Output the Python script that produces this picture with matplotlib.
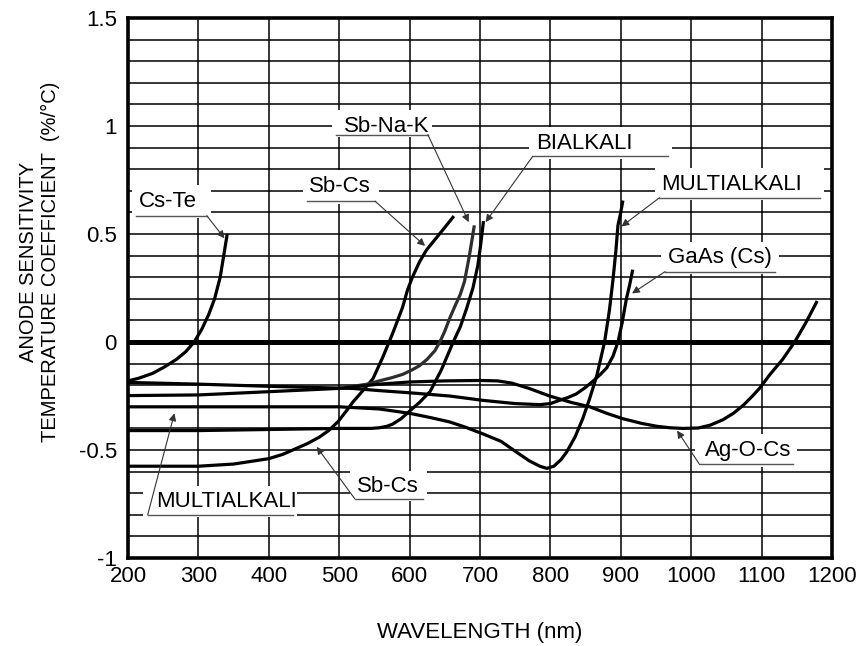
import numpy as np
import matplotlib.pyplot as plt
from matplotlib.ticker import MultipleLocator, FixedLocator

plt.rcParams['font.family'] = ['Liberation Sans', 'DejaVu Sans']

# curve data (wavelength nm, coefficient %/C)
cste_x = [200, 215, 235, 252, 269, 282, 294, 305, 315, 323, 331, 337, 341]
cste_y = [-0.18, -0.168, -0.145, -0.115, -0.08, -0.045, 0.0, 0.06, 0.13, 0.2, 0.3, 0.42, 0.5]

sbcs_x = [200, 300, 350, 400, 420, 434, 455, 472, 485, 498, 510, 519, 535, 548, 562, 576, 590, 597, 604, 614, 624, 640, 663]
sbcs_y = [-0.575, -0.575, -0.565, -0.54, -0.52, -0.50, -0.47, -0.44, -0.41, -0.37, -0.32, -0.28, -0.22, -0.17, -0.07, 0.04, 0.16, 0.24, 0.3, 0.37, 0.426, 0.49, 0.583]

sbnak_x = [520, 540, 557, 575, 590, 603, 614, 625, 636, 643, 650, 657, 665, 672, 678, 685, 692]
sbnak_y = [-0.205, -0.195, -0.18, -0.165, -0.15, -0.13, -0.11, -0.08, -0.04, 0.0, 0.05, 0.11, 0.17, 0.22, 0.28, 0.4, 0.54]

bialk_x = [200, 300, 400, 500, 545, 557, 568, 576, 588, 600, 614, 629, 645, 662, 672, 681, 690, 697, 701, 705]
bialk_y = [-0.41, -0.41, -0.405, -0.40, -0.40, -0.397, -0.39, -0.38, -0.355, -0.32, -0.28, -0.23, -0.13, 0.0, 0.07, 0.155, 0.25, 0.355, 0.45, 0.56]

multi_x = [200, 300, 400, 500, 557, 600, 630, 657, 680, 704, 730, 752, 770, 785, 795, 805, 815, 823, 835, 846, 856, 866, 877, 884, 889, 893, 896, 900, 903]
multi_y = [-0.30, -0.30, -0.30, -0.30, -0.31, -0.33, -0.35, -0.37, -0.395, -0.425, -0.46, -0.51, -0.55, -0.575, -0.585, -0.575, -0.545, -0.51, -0.44, -0.355, -0.26, -0.155, 0.0, 0.15, 0.29, 0.42, 0.54, 0.6, 0.655]

gaas_x = [200, 300, 400, 520, 557, 600, 657, 704, 750, 785, 800, 813, 825, 837, 850, 861, 871, 880, 889, 896, 902, 908, 913, 917]
gaas_y = [-0.187, -0.195, -0.205, -0.215, -0.225, -0.235, -0.25, -0.27, -0.285, -0.29, -0.285, -0.27, -0.257, -0.24, -0.21, -0.18, -0.15, -0.12, -0.065, 0.0, 0.09, 0.2, 0.27, 0.335]

agocs_x = [200, 300, 400, 498, 557, 600, 650, 700, 725, 745, 770, 799, 830, 856, 880, 903, 930, 951, 970, 988, 1010, 1027, 1045, 1060, 1075, 1087, 1097, 1112, 1130, 1147, 1163, 1179]
agocs_y = [-0.248, -0.245, -0.23, -0.215, -0.195, -0.185, -0.18, -0.178, -0.18, -0.19, -0.215, -0.25, -0.28, -0.30, -0.33, -0.355, -0.377, -0.39, -0.397, -0.40, -0.398, -0.385, -0.36, -0.33, -0.29, -0.25, -0.215, -0.15, -0.08, 0.0, 0.09, 0.19]

curves = [
    (cste_x, cste_y, 'black'),
    (sbcs_x, sbcs_y, 'black'),
    (sbnak_x, sbnak_y, '#2e2e2e'),
    (bialk_x, bialk_y, 'black'),
    (multi_x, multi_y, 'black'),
    (gaas_x, gaas_y, 'black'),
    (agocs_x, agocs_y, 'black'),
]

# label text, text centre, underline (x0, x1, y), leader start, arrow tip
labels = [
    ('Cs-Te', (256, 0.65), (212, 312, 0.585), (312, 0.585), (337, 0.48)),
    ('Sb-Cs', (501, 0.72), (455, 551, 0.652), (551, 0.652), (622, 0.445)),
    ('Sb-Na-K', (567, 1.0), (496, 626, 0.96), (626, 0.96), (684, 0.555)),
    ('BIALKALI', (849, 0.92), (775, 967, 0.86), (775, 0.86), (708, 0.555)),
    ('MULTIALKALI', (1058, 0.73), (955, 1183, 0.668), (955, 0.668), (901, 0.535)),
    ('GaAs (Cs)', (1041, 0.39), (963, 1119, 0.326), (963, 0.326), (916, 0.225)),
    ('Ag-O-Cs', (1081, -0.50), (1012, 1145, -0.567), (1012, -0.567), (980, -0.41)),
    ('Sb-Cs', (569, -0.67), (522, 619, -0.725), (522, -0.725), (468, -0.485)),
    ('MULTIALKALI', (340, -0.74), (228, 434, -0.80), (228, -0.80), (266, -0.33)),
]

fig = plt.figure(figsize=(8.6, 6.46), dpi=100)
ax = fig.add_axes([0.1488, 0.1362, 0.8186, 0.8359])

ax.set_xlim(200, 1200)
ax.set_ylim(-1, 1.5)
ax.xaxis.set_major_locator(MultipleLocator(100))
ax.yaxis.set_major_locator(FixedLocator([-1, -0.5, 0, 0.5, 1, 1.5]))
ax.yaxis.set_minor_locator(MultipleLocator(0.1))
ax.set_yticklabels(['-1', '-0.5', '0', '0.5', '1', '1.5'])
ax.tick_params(which='both', length=0)
ax.tick_params(axis='y', pad=8, labelsize=16)
ax.tick_params(axis='x', pad=6, labelsize=16)

ax.grid(axis='x', which='major', color='black', lw=1.1, zorder=1)
ax.grid(axis='y', which='both', color='black', lw=1.1, zorder=1)
ax.set_axisbelow(True)
ax.axhline(0, color='black', lw=3.6, zorder=2)
for s in ax.spines.values():
    s.set_linewidth(2.6)

for xs, ys, c in curves:
    ax.plot(xs, ys, color=c, lw=2.3, zorder=3, solid_capstyle='butt')

for txt, (tx, ty), (u0, u1, uy), start, tip in labels:
    ax.fill_between([u0 - 6, u1 + 6], uy - 0.012, ty + 0.075, color='white', zorder=4, lw=0)
    ax.text(tx, ty, txt, ha='center', va='center', fontsize=16, zorder=5)
    ax.plot([u0, u1], [uy, uy], color='#555555', lw=1.0, zorder=5)
    ax.annotate('', xy=tip, xytext=start, zorder=5,
                arrowprops=dict(arrowstyle='-|>', color='#333333', lw=0.8,
                                mutation_scale=11, shrinkA=0, shrinkB=0))

fig.text(0.5581, 0.021, 'WAVELENGTH (nm)', ha='center', va='center', fontsize=16)
fig.text(0.046, 0.595, 'ANODE SENSITIVITY\nTEMPERATURE COEFFICIENT  (%/°C)',
         rotation=90, ha='center', va='center', multialignment='center',
         fontsize=14.5, linespacing=1.25)

fig.savefig('out.png', dpi=100)
